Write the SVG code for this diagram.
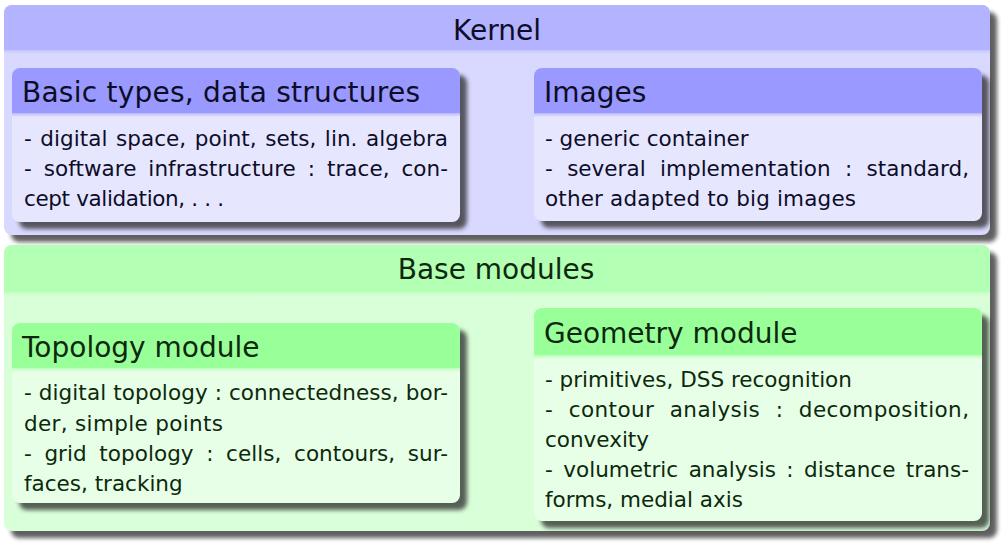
<svg xmlns="http://www.w3.org/2000/svg" width="1003" height="545" viewBox="0 0 1003 545">
<defs>
<filter id="sh" x="-5%" y="-10%" width="115%" height="130%"><feGaussianBlur stdDeviation="2.2"/></filter>
<linearGradient id="gOB" x1="0" y1="0" x2="0" y2="1"><stop offset="0" stop-color="#c4c4ff"/><stop offset="1" stop-color="#d9d9ff"/></linearGradient>
<linearGradient id="gIB" x1="0" y1="0" x2="0" y2="1"><stop offset="0" stop-color="#b8b8ff"/><stop offset="1" stop-color="#e6e6ff"/></linearGradient>
<linearGradient id="gOG" x1="0" y1="0" x2="0" y2="1"><stop offset="0" stop-color="#c4ffc4"/><stop offset="1" stop-color="#d9ffd9"/></linearGradient>
<linearGradient id="gIG" x1="0" y1="0" x2="0" y2="1"><stop offset="0" stop-color="#b8ffb8"/><stop offset="1" stop-color="#e6ffe6"/></linearGradient>
</defs>
<style>
.shadow{fill:#2a2a2a;opacity:.75;filter:url(#sh)}
.ob-h{fill:#b3b3ff}.ob-b{fill:#d9d9ff}
.ib-h{fill:#9999ff}.ib-b{fill:#e6e6ff}
.og-h{fill:#b3ffb3}.og-b{fill:#d9ffd9}
.ig-h{fill:#99ff99}.ig-b{fill:#e6ffe6}
text{font-family:"DejaVu Sans","Liberation Sans",sans-serif}
.t{font-size:28px}
.b{font-size:21.5px}
.blue{fill:#0d0d28}
.green{fill:#0d280d}
</style>

<g id="kernel">
<rect class="shadow" x="11" y="12" width="986" height="230" rx="8"/>
<rect class="ob-b" x="4" y="5" width="986" height="230" rx="8"/>
<path class="ob-h" d="M4,50 V13 A8,8 0 0 1 12,5 H982 A8,8 0 0 1 990,13 V50 Z"/>
<rect x="4" y="50" width="986" height="4" fill="url(#gOB)"/>
<text class="t blue" x="497" y="40" text-anchor="middle">Kernel</text>
</g>

<g id="basic-types">
<rect class="shadow" x="19" y="75" width="448" height="154" rx="8"/>
<rect class="ib-b" x="12" y="68" width="448" height="154" rx="8"/>
<path class="ib-h" d="M12,113 V76 A8,8 0 0 1 20,68 H452 A8,8 0 0 1 460,76 V113 Z"/>
<rect x="12" y="113" width="448" height="4" fill="url(#gIB)"/>
<text class="t blue" x="22" y="102" textLength="398">Basic types, data structures</text>
<g class="b blue">
<text x="24" y="146" textLength="424" word-spacing="1.6">- digital space, point, sets, lin. algebra</text>
<text x="24" y="176" textLength="424" word-spacing="5">- software infrastructure : trace, con-</text>
<text x="24" y="206" textLength="200">cept validation, . . .</text>
</g>
</g>

<g id="images">
<rect class="shadow" x="541" y="75" width="448" height="153" rx="8"/>
<rect class="ib-b" x="534" y="68" width="448" height="153" rx="8"/>
<path class="ib-h" d="M534,113 V76 A8,8 0 0 1 542,68 H974 A8,8 0 0 1 982,76 V113 Z"/>
<rect x="534" y="113" width="448" height="4" fill="url(#gIB)"/>
<text class="t blue" x="544" y="102">Images</text>
<g class="b blue">
<text x="545" y="146">- generic container</text>
<text x="545" y="176" textLength="424" word-spacing="7.5">- several implementation : standard,</text>
<text x="545" y="206" textLength="311">other adapted to big images</text>
</g>
</g>

<g id="base-modules">
<rect class="shadow" x="11" y="252" width="986" height="286" rx="8"/>
<rect class="og-b" x="4" y="245" width="986" height="286" rx="8"/>
<path class="og-h" d="M4,292 V253 A8,8 0 0 1 12,245 H982 A8,8 0 0 1 990,253 V292 Z"/>
<rect x="4" y="292" width="986" height="4" fill="url(#gOG)"/>
<text class="t green" x="496" y="279" text-anchor="middle">Base modules</text>
</g>

<g id="topology-module">
<rect class="shadow" x="19" y="330" width="448" height="180" rx="8"/>
<rect class="ig-b" x="12" y="323" width="448" height="180" rx="8"/>
<path class="ig-h" d="M12,368 V331 A8,8 0 0 1 20,323 H452 A8,8 0 0 1 460,331 V368 Z"/>
<rect x="12" y="368" width="448" height="4" fill="url(#gIG)"/>
<text class="t green" x="22" y="357">Topology module</text>
<g class="b green">
<text x="24" y="400" textLength="424">- digital topology : connectedness, bor-</text>
<text x="24" y="431" textLength="199">der, simple points</text>
<text x="24" y="461" textLength="424" word-spacing="5.7">- grid topology : cells, contours, sur-</text>
<text x="24" y="491">faces, tracking</text>
</g>
</g>

<g id="geometry-module">
<rect class="shadow" x="541" y="315" width="448" height="213" rx="8"/>
<rect class="ig-b" x="534" y="308" width="448" height="213" rx="8"/>
<path class="ig-h" d="M534,355 V316 A8,8 0 0 1 542,308 H974 A8,8 0 0 1 982,316 V355 Z"/>
<rect x="534" y="355" width="448" height="4" fill="url(#gIG)"/>
<text class="t green" x="544" y="343">Geometry module</text>
<g class="b green">
<text x="545" y="387">- primitives, DSS recognition</text>
<text x="545" y="417" textLength="424" word-spacing="8.3">- contour analysis : decomposition,</text>
<text x="545" y="447">convexity</text>
<text x="545" y="477" textLength="424" word-spacing="3.6">- volumetric analysis : distance trans-</text>
<text x="545" y="507">forms, medial axis</text>
</g>
</g>

<g id="connectors"/>
</svg>
